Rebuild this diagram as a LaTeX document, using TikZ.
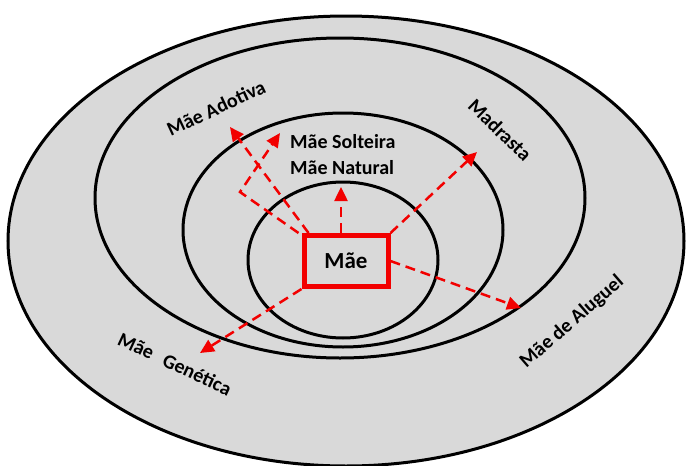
\documentclass[tikz,border=0pt]{standalone}
\usepackage{fontspec}
\setmainfont{Carlito}
\usetikzlibrary{arrows.meta}
\definecolor{ringgray}{HTML}{D9D9D9}
\definecolor{maered}{HTML}{F20000}

\begin{document}
\begin{tikzpicture}[
        x=1pt, y=-1pt,
        ring/.style={draw=black, line width=3pt},
        link/.style={draw=maered, line width=2.5pt, dash pattern=on 10pt off 6pt,
                -{Triangle[length=14pt, width=13pt]}},
        catlabel/.style={font=\bfseries\fontsize{20}{22}\selectfont, text=black, inner sep=0pt},
        maebox/.style={draw=maered, line width=5pt, fill=ringgray, inner sep=0pt,
                minimum width=84pt, minimum height=51pt,
                font=\bfseries\fontsize{23}{25}\selectfont, text=black}
    ]
    \useasboundingbox (0,0) rectangle (689,466);
    \clip (0,0) rectangle (689,466);

    \path[ring, fill=ringgray] (346,241) ellipse [x radius=338, y radius=225];
    \path[ring] (340,198) ellipse [x radius=245, y radius=160];
    \path[ring] (343,230) ellipse [x radius=160, y radius=117];
    \path[ring] (343,260) ellipse [x radius=95, y radius=78];

    \coordinate (natTip) at (341,187);
    \coordinate (adoTip) at (230,127);
    \coordinate (solBend) at (240,192);
    \coordinate (solTip) at (280,133);
    \coordinate (madTip) at (477,152);
    \coordinate (aluTip) at (521,308);
    \coordinate (genTip) at (200,353);

    \node[maebox] (mae) at (346,261) {Mãe};

    \draw[link] ([xshift=-5pt]mae.north) -- (natTip);
    \draw[link] ([xshift=7pt]mae.north west) -- (adoTip);
    \draw[link] ([xshift=-3pt]mae.north west) -- (solBend) -- (solTip);
    \draw[link] (mae.north east) -- (madTip);
    \draw[link] (mae.east) -- (aluTip);
    \draw[link] (mae.south west) -- (genTip);

    \node[catlabel, rotate=25] (adotiva) at (216,108) {Mãe Adotiva};
    \node[catlabel, anchor=west] (solteira) at (290,142) {Mãe Solteira};
    \node[catlabel, anchor=west] (natural) at (290,168) {Mãe Natural};
    \node[catlabel, rotate=-44] (madrasta) at (500,130) {Madrasta};
    \node[catlabel, rotate=41] (aluguel) at (572,322) {Mãe de Aluguel};
    \node[catlabel, rotate=-25] (genetica) at (175,364) {Mãe\hspace{0.6em}Genética};
\end{tikzpicture}
\end{document}
